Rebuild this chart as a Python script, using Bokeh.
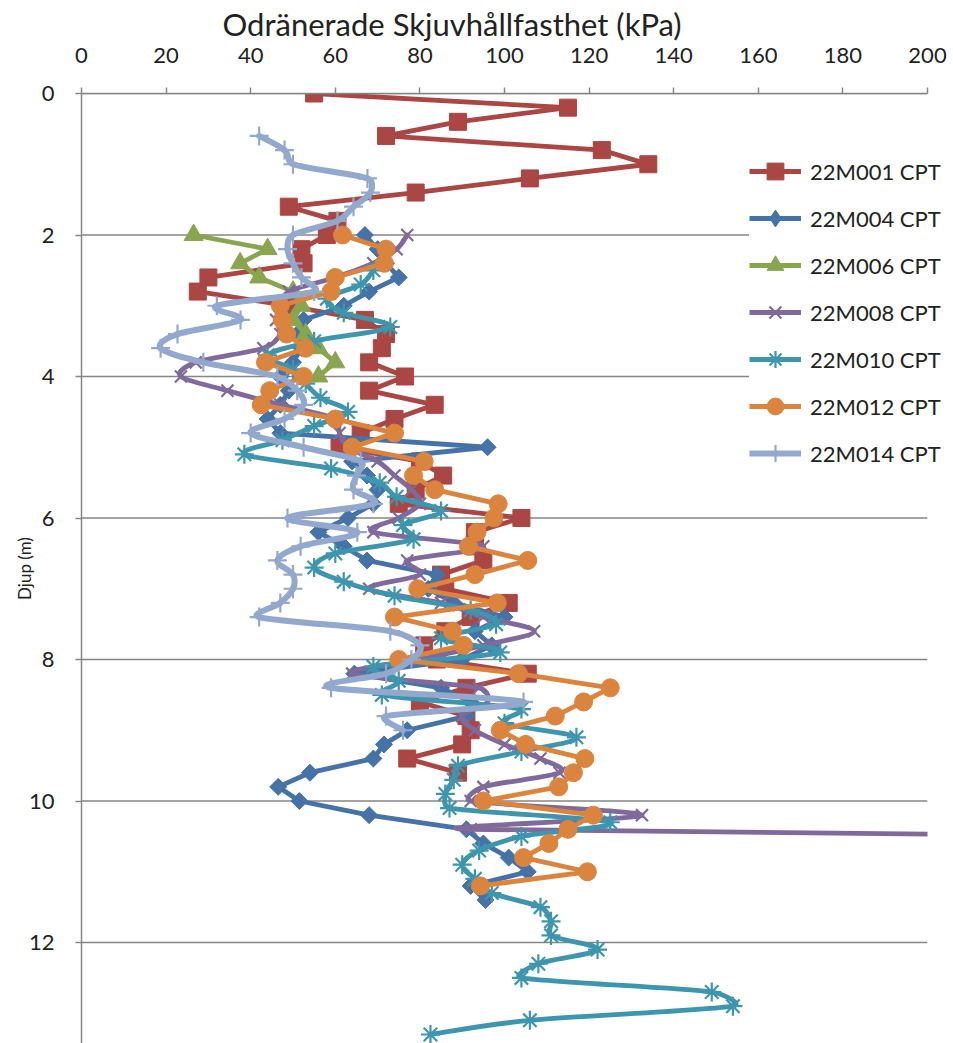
import numpy as np
from bokeh.plotting import figure
from bokeh.models import Range1d, FixedTicker, Legend, LegendItem
from bokeh.embed import file_html
from bokeh.resources import INLINE

# ---------------- data ----------------
names = ["22M001 CPT", "22M004 CPT", "22M006 CPT", "22M008 CPT",
         "22M010 CPT", "22M012 CPT", "22M014 CPT"]

d_001 = [0.0, 0.2, 0.4, 0.6, 0.8, 1.0, 1.2, 1.4, 1.6, 1.8, 2.0, 2.2, 2.4, 2.6, 2.8,
         3.0, 3.2, 3.4, 3.6, 3.8, 4.0, 4.2, 4.4, 4.6, 4.8, 5.0, 5.2, 5.4, 5.6, 5.8,
         6.0, 6.2, 6.4, 6.6, 6.8, 7.0, 7.2, 7.4, 7.6, 7.8, 8.0, 8.2, 8.4, 8.6, 8.8,
         9.0, 9.2, 9.4, 9.6]
s_001 = [55, 115, 89, 72, 123, 134, 106, 79, 49, 60.5, 58, 52, 52.5, 30, 27.5,
         49, 67, 72, 71, 68, 76.5, 68, 83.5, 74, 66, 61, 80, 85.5, 79, 75,
         104, 93, 93, 95, 85, 86, 101, 92, 86, 81, 84, 105.5, 91, 80, 91,
         92, 90, 77, 89]

d_004 = [2.0, 2.2, 2.4, 2.6, 2.8, 3.0, 3.2, 3.4, 3.6, 3.8, 4.0, 4.2, 4.4, 4.6, 4.8,
         5.0, 5.2, 5.4, 5.6, 5.8, 6.0, 6.2, 6.4, 6.6, 6.8, 7.0, 7.2, 7.4, 7.6, 7.8,
         8.0, 8.2, 8.4, 8.6, 8.8, 9.0, 9.2, 9.4, 9.6, 9.8, 10.0, 10.2, 10.4, 10.6,
         10.8, 11.0, 11.2, 11.4]
s_004 = [67, 70, 72, 75, 68, 62, 52.5, 51, 52, 50, 47, 49, 47, 44, 47,
         96, 64, 67.5, 70, 69, 63, 56, 62, 67.5, 84, 82, 88, 100, 93, 97,
         90, 64.5, 85, 92, 91, 77, 71.5, 69, 54, 46.5, 51.5, 68, 91, 95,
         101, 105.5, 92, 95.5]

d_006 = [2.0, 2.2, 2.4, 2.6, 2.8, 3.0, 3.2, 3.4, 3.6, 3.8, 4.0]
s_006 = [26.5, 44, 37.5, 42, 50, 52, 50, 53, 56, 60, 56]

d_008 = [2.0, 2.2, 2.4, 2.6, 2.8, 3.0, 3.2, 3.4, 3.6, 3.8, 4.0, 4.2, 4.4, 4.6, 4.8,
         5.0, 5.2, 5.4, 5.6, 5.8, 6.0, 6.2, 6.4, 6.6, 6.8, 7.0, 7.2, 7.4, 7.6, 7.8,
         8.0, 8.2, 8.4, 8.6, 8.8, 9.0, 9.2, 9.4, 9.6, 9.8, 10.0, 10.2, 10.4, 10.6]
s_008 = [77, 74.5, 69, 60, 49, 47, 46, 47, 43, 27, 23.5, 34.5, 47, 60, 61,
         63, 70, 74, 78, 80, 75, 69, 95, 77, 80, 68, 85, 95, 107, 95,
         80, 64, 94, 96, 90, 93, 100, 108.5, 113, 95, 92, 132.5, 92, 450]

d_010 = [2.5, 2.7, 2.9, 3.1, 3.3, 3.5, 3.7, 3.9, 4.1, 4.3, 4.5, 4.7, 4.9, 5.1, 5.3,
         5.5, 5.7, 5.9, 6.1, 6.3, 6.5, 6.7, 6.9, 7.1, 7.3, 7.5, 7.7, 7.9, 8.1, 8.3,
         8.5, 8.7, 8.9, 9.1, 9.3, 9.5, 9.7, 9.9, 10.1, 10.3, 10.5, 10.7, 10.9, 11.1,
         11.3, 11.5, 11.7, 11.9, 12.1, 12.3, 12.5, 12.7, 12.9, 13.1, 13.3]
s_010 = [69, 66, 58, 62, 73, 55, 44, 50, 53, 56.5, 63, 55, 47.5, 38.5, 59,
         70.5, 74.5, 85, 76, 78.5, 60, 55, 62, 74, 92, 98, 85, 99, 69, 75,
         71, 104, 100, 117, 104, 89, 88, 86, 87, 125, 104, 94, 90, 93,
         97, 108.5, 111, 111, 122, 108, 104, 149, 154, 106, 82.5]

d_012 = [2.0, 2.2, 2.4, 2.6, 2.8, 3.0, 3.2, 3.4, 3.6, 3.8, 4.0, 4.2, 4.4, 4.6, 4.8,
         5.0, 5.2, 5.4, 5.6, 5.8, 6.0, 6.2, 6.4, 6.6, 6.8, 7.0, 7.2, 7.4, 7.6, 7.8,
         8.0, 8.2, 8.4, 8.6, 8.8, 9.0, 9.2, 9.4, 9.6, 9.8, 10.0, 10.2, 10.4, 10.6,
         10.8, 11.0, 11.2]
s_012 = [61.7, 72, 71.6, 60, 59, 47, 47.5, 48.5, 53, 43.5, 52.5, 44.5, 42.5, 60, 74,
         64, 81, 78.5, 83.5, 98.5, 97.5, 93.5, 91.5, 105.5, 93, 79.5, 98.3, 74, 87.7, 90.3,
         75, 103.3, 125, 118.7, 112, 99, 105, 119, 116.3, 112.8, 95, 121, 115, 110.5,
         104.5, 119.6, 94.3]

d_014 = [0.6, 0.8, 1.0, 1.2, 1.4, 1.6, 1.8, 2.0, 2.2, 2.4, 2.6, 2.8, 3.0, 3.2, 3.4,
         3.6, 3.8, 4.0, 4.2, 4.4, 4.6, 4.8, 5.0, 5.2, 5.4, 5.6, 5.8, 6.0, 6.2, 6.4,
         6.6, 6.8, 7.0, 7.2, 7.4, 7.6, 7.8, 8.0, 8.2, 8.4, 8.6, 8.8, 9.0]
s_014 = [42, 48, 50, 67.6, 68.3, 64.3, 60.5, 50, 48.7, 50, 52, 55, 32, 37.6, 22.7,
         18.7, 28.8, 46.3, 51, 52.5, 48, 40, 52.5, 66, 65, 64.3, 69, 48.7, 65.2, 51.8,
         46.3, 50, 50, 47, 42, 73, 80, 78, 72, 59, 104.5, 72, 76]

x_ticks = [0, 20, 40, 60, 80, 100, 120, 140, 160, 180, 200]
y_ticks = [0, 2, 4, 6, 8, 10, 12, 14]
x_title = "Odränerade Skjuvhållfasthet  (kPa)"
y_title = "Djup (m)"

# ---------------- style ----------------
colors = ["#AA4643", "#4572A7", "#89A54E", "#80699B", "#3D96AE", "#DB843D", "#92A8CD"]
FONT = "Lato"
GRAY = "#868686"

W, H = 953, 1043
BL, BT, BR, BB = 81, 91, 0, 0
PX_PER_X = 846 / 200.0          # plot area of the axis: 0..200 over 846 px
FW, FH = W - BL - BR, H - BT - BB
XMAX_VIEW = FW / PX_PER_X        # frame runs on to the page edge (room for legend)
YMAX = FH / 70.9
SX, SY = PX_PER_X, FH / YMAX

p = figure(width=W, height=H, output_backend="svg", toolbar_location=None,
           x_range=Range1d(0, XMAX_VIEW), y_range=Range1d(YMAX, 0),
           x_axis_location="above",
           min_border_left=BL, min_border_top=BT, min_border_right=BR,
           min_border_bottom=BB)
p.outline_line_color = None
p.background_fill_color = "white"
p.border_fill_color = "white"
p.xgrid.visible = False
p.ygrid.visible = False

# horizontal grid lines, limited to the 0..200 axis span
p.segment(x0=[x_ticks[0]] * len(y_ticks), x1=[x_ticks[-1]] * len(y_ticks),
          y0=y_ticks, y1=y_ticks, line_color=GRAY, line_width=1.5, level="underlay")

for ax, ticks in ((p.xaxis, x_ticks), (p.yaxis, y_ticks)):
    ax.ticker = FixedTicker(ticks=ticks)
    ax.axis_line_color = GRAY
    ax.axis_line_width = 1.5
    ax.major_tick_line_color = GRAY
    ax.major_tick_line_width = 1.5
    ax.major_tick_in = 0
    ax.major_tick_out = 6
    ax.minor_tick_line_color = None
    ax.major_label_text_font = FONT
    ax.major_label_text_font_size = "22px"
    ax.major_label_text_color = "#222222"
    ax.axis_label_text_font = FONT
    ax.axis_label_text_font_style = "normal"
    ax.axis_label_text_color = "#222222"

p.xaxis.bounds = (x_ticks[0], x_ticks[-1])
p.xaxis.major_label_standoff = 25
p.yaxis.axis_label = y_title
p.yaxis.axis_label_text_font_size = "17px"
p.yaxis.major_label_standoff = 21
p.yaxis.axis_label_standoff = -9

p.title.text = x_title
p.title.align = "left"
p.title.offset = 141
p.title.text_font = FONT
p.title.text_font_size = "31px"
p.title.text_font_style = "normal"
p.title.text_color = "#222222"
p.title.standoff = 4


def smooth(xs, ys):
    P = np.column_stack([np.asarray(xs, float) * SX, np.asarray(ys, float) * SY])
    n = len(P)
    out = {k: [] for k in ("x0", "y0", "x1", "y1", "cx0", "cy0", "cx1", "cy1")}
    for i in range(n - 1):
        pm = P[i - 1] if i > 0 else P[i]
        pn = P[i + 2] if i + 2 < n else P[i + 1]
        seg = np.linalg.norm(P[i + 1] - P[i])
        d1 = (P[i + 1] - pm) / 6.0
        d2 = (pn - P[i]) / 6.0
        lim = 0.45 * seg
        for d in (d1, d2):
            L = np.linalg.norm(d)
            if L > lim and L > 0:
                d *= lim / L
        c1 = P[i] + d1
        c2 = P[i + 1] - d2
        out["x0"].append(P[i][0] / SX); out["y0"].append(P[i][1] / SY)
        out["x1"].append(P[i + 1][0] / SX); out["y1"].append(P[i + 1][1] / SY)
        out["cx0"].append(c1[0] / SX); out["cy0"].append(c1[1] / SY)
        out["cx1"].append(c2[0] / SX); out["cy1"].append(c2[1] / SY)
    return out


series = [
    (d_001, s_001, "square", 17, 0.0, False, 4.8),
    (d_004, s_004, "square", 12, np.pi / 4, False, 4.8),
    (d_006, s_006, "triangle", 19, 0.0, False, 4.8),
    (d_008, s_008, "x", 17, 0.0, True, 4.8),
    (d_010, s_010, "asterisk", 19, 0.0, True, 4.8),
    (d_012, s_012, "circle", 18, 0.0, False, 4.8),
    (d_014, s_014, "cross", 19, 0.0, True, 6.0),
]

items = []
for (d, s, mk, size, ang, sm, lw), col, name in zip(series, colors, names):
    if sm:
        p.bezier(line_color=col, line_width=lw, line_cap="round", **smooth(s, d))
        # one-point line: draws nothing in the plot, gives the legend its line
        leg_line = p.line(x=s[:1], y=d[:1], line_color=col, line_width=lw)
    else:
        leg_line = p.line(x=s, y=d, line_color=col, line_width=lw, line_join="round")
    line_marker = mk in ("x", "asterisk", "cross")
    sc = p.scatter(x=s, y=d, marker=mk, size=size, angle=ang,
                   fill_color=col, line_color=col,
                   line_width=2.2 if line_marker else 1)
    if ang:
        leg_mk = p.scatter(x=s[:1], y=d[:1], marker="diamond", size=0,
                           fill_color=col, line_color=col)
        items.append(LegendItem(label=name, renderers=[leg_line, leg_mk]))
    else:
        items.append(LegendItem(label=name, renderers=[leg_line, sc]))

# the chart's plot area ends at 200: blank the strip to its right
p.quad(left=[x_ticks[-1]], right=[XMAX_VIEW], bottom=[YMAX], top=[0],
       fill_color="white", line_color=None)

legend = Legend(items=items, location=(668, 569))
legend.background_fill_color = "white"
legend.background_fill_alpha = 1.0
legend.border_line_color = None
legend.padding = 22
legend.spacing = 5
legend.glyph_width = 52
legend.glyph_height = 42
legend.label_height = 42
legend.label_standoff = 9
legend.label_text_font = FONT
legend.label_text_font_size = "22px"
legend.label_text_color = "#222222"
p.add_layout(legend)

open("out.html", "w").write(file_html(p, INLINE))
